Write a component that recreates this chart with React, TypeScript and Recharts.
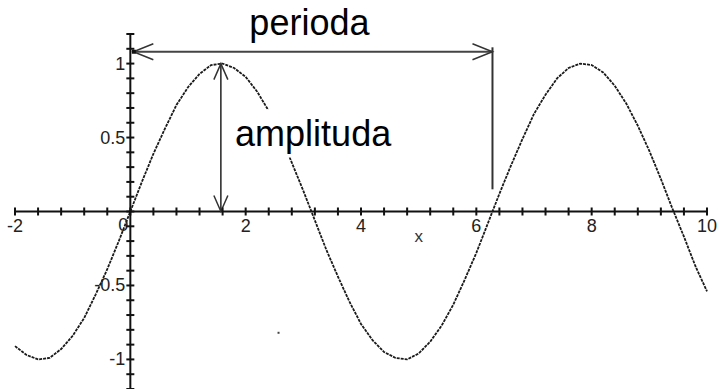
import React from "react";
import {
  ComposedChart,
  Line,
  Scatter,
  XAxis,
  YAxis,
  ReferenceLine,
  ReferenceDot,
} from "recharts";

// Sine curve
const curveX = [
  -2.0, -1.8, -1.6, -1.4, -1.2, -1.0, -0.8, -0.6, -0.4, -0.2, 0.0, 0.2, 0.4, 0.6,
  0.8, 1.0, 1.2, 1.4, 1.6, 1.8, 2.0, 2.2, 2.4, 2.6, 2.8, 3.0, 3.2, 3.4, 3.6, 3.8,
  4.0, 4.2, 4.4, 4.6, 4.8, 5.0, 5.2, 5.4, 5.6, 5.8, 6.0, 6.2, 6.4, 6.6, 6.8, 7.0,
  7.2, 7.4, 7.6, 7.8, 8.0, 8.2, 8.4, 8.6, 8.8, 9.0, 9.2, 9.4, 9.6, 9.8, 10.0,
];
const curveY = [
  -0.91, -0.97, -1.0, -0.99, -0.93, -0.84, -0.72, -0.56, -0.39, -0.2, 0.0, 0.2,
  0.39, 0.56, 0.72, 0.84, 0.93, 0.99, 1.0, 0.97, 0.91, 0.81, 0.68, 0.52, 0.33,
  0.14, -0.06, -0.26, -0.44, -0.61, -0.76, -0.87, -0.95, -0.99, -1.0, -0.96,
  -0.88, -0.77, -0.63, -0.46, -0.28, -0.08, 0.12, 0.31, 0.49, 0.66, 0.79, 0.9,
  0.97, 1.0, 0.99, 0.94, 0.85, 0.73, 0.58, 0.41, 0.22, 0.02, -0.17, -0.37, -0.54,
];

// Axis ticks
const xTickValues = [
  -2, -1.6, -1.2, -0.8, -0.4, 0, 0.4, 0.8, 1.2, 1.6, 2, 2.4, 2.8, 3.2, 3.6, 4,
  4.4, 4.8, 5.2, 5.6, 6, 6.4, 6.8, 7.2, 7.6, 8, 8.4, 8.8, 9.2, 9.6, 10,
];
const xTickLabels = [-2, 2, 4, 6, 8, 10];
const yTickValues = [
  -1.2, -1.1, -1.0, -0.9, -0.8, -0.7, -0.6, -0.5, -0.4, -0.3, -0.2, -0.1, 0,
  0.1, 0.2, 0.3, 0.4, 0.5, 0.6, 0.7, 0.8, 0.9, 1.0, 1.1, 1.2,
];
const yTickLabels = [-1, -0.5, 0.5, 1];

// Annotations (data coordinates)
const periodStart = 0;
const periodEnd = 6.28;
const periodLevel = 1.08;
const periodDropTop = 1.11;
const periodDropBottom = 0.15;
const amplitudeX = 1.57;
const amplitudeTop = 1;
const amplitudeBottom = 0;
const amplitudeTextPos = { x: 3.17, y: 0.44 };
const axisTitlePos = { x: 5, y: -0.17 };
const strayDot = { x: 2.57, y: -0.82 };

const curveData = curveX.map((x, i) => ({ x, y: curveY[i] }));
const xTickData = xTickValues.map((x) => ({ x, y: 0 }));
const yTickData = yTickValues.map((y) => ({ x: 0, y }));

const FONT = "'Liberation Sans', Arial, sans-serif";
const INK = "#111";

const XTick = (props: any) => {
  const { cx, cy, payload } = props;
  const isLabel = xTickLabels.includes(payload.x);
  return (
    <g>
      <line x1={cx} x2={cx} y1={cy - 4} y2={cy + 4} stroke={INK} strokeWidth={2} />
      {isLabel && (
        <text x={cx} y={cy + 20} textAnchor="middle" fontSize={18} fontFamily={FONT} fill="#222">
          {String(payload.x)}
        </text>
      )}
      {payload.x === 0 && (
        <text x={cx - 2} y={cy + 19} textAnchor="end" fontSize={18} fontFamily={FONT} fill="#222">
          0
        </text>
      )}
    </g>
  );
};

const YTick = (props: any) => {
  const { cx, cy, payload } = props;
  const isLabel = yTickLabels.includes(payload.y);
  return (
    <g>
      <line x1={cx - 4} x2={cx + 4} y1={cy} y2={cy} stroke={INK} strokeWidth={2} />
      {isLabel && (
        <text x={cx - 5} y={cy + 6} textAnchor="end" fontSize={18} fontFamily={FONT} fill="#222">
          {String(payload.y)}
        </text>
      )}
    </g>
  );
};

const arrowHead = (tx: number, ty: number, fx: number, fy: number, L: number, W: number) => {
  const dx = fx - tx;
  const dy = fy - ty;
  const len = Math.sqrt(dx * dx + dy * dy) || 1;
  const ux = dx / len;
  const uy = dy / len;
  const bx = tx + ux * L;
  const by = ty + uy * L;
  const px = -uy * W;
  const py = ux * W;
  return (
    <path
      d={`M${bx + px},${by + py} L${tx},${ty} L${bx - px},${by - py}`}
      fill="none"
      stroke="#333"
      strokeWidth={1.5}
    />
  );
};

const PeriodArrow = (props: any) => {
  const { x1, y1, x2, y2 } = props;
  return (
    <g>
      <line x1={x1 + 3} y1={y1} x2={x2} y2={y2} stroke="#444" strokeWidth={2} />
      {arrowHead(x1 + 3, y1, x2, y2, 20, 8)}
      {arrowHead(x2, y2, x1, y1, 20, 8)}
      <rect x={x1 + 1.5} y={y1 - 2} width={4} height={4} fill="#111" />
      <text
        x={(x1 + x2) / 2 - 2}
        y={y1 - 17}
        textAnchor="middle"
        fontSize={36}
        fontFamily={FONT}
        fill="#000"
      >
        perioda
      </text>
    </g>
  );
};

const AmplitudeArrow = (props: any) => {
  const { x1, y1, x2, y2 } = props;
  return (
    <g>
      <line x1={x1} y1={y1} x2={x2} y2={y2} stroke="#222" strokeWidth={1.5} />
      {arrowHead(x1, y1, x2, y2, 16, 7)}
      {arrowHead(x2, y2, x1, y1, 16, 7)}
    </g>
  );
};

const PlainLine = (props: any) => {
  const { x1, y1, x2, y2 } = props;
  return <line x1={x1} y1={y1} x2={x2} y2={y2} stroke="#333" strokeWidth={2} />;
};

const AmplitudeText = (props: any) => {
  const { cx, cy } = props;
  return (
    <g>
      <rect x={cx - 83} y={cy - 37} width={166} height={48} fill="#fff" />
      <text x={cx} y={cy} textAnchor="middle" fontSize={36} fontFamily={FONT} fill="#000">
        amplituda
      </text>
    </g>
  );
};

const AxisTitle = (props: any) => {
  const { cx, cy } = props;
  return (
    <text x={cx} y={cy + 5} textAnchor="middle" fontSize={17} fontFamily={FONT} fill="#333">
      x
    </text>
  );
};

const TinyDot = (props: any) => {
  const { cx, cy } = props;
  return <rect x={cx - 1} y={cy - 1} width={2} height={2} fill="#444" />;
};

export default function App() {
  return (
    <div style={{ width: 718, height: 389, background: "#fff" }}>
      <style>{`body{margin:0;background:#fff}`}</style>
      <ComposedChart
        width={718}
        height={389}
        margin={{ top: 34, right: 11, bottom: 0, left: 15 }}
        style={{ overflow: "visible" }}
      >
        <XAxis type="number" dataKey="x" domain={[-2, 10]} hide />
        <YAxis type="number" dataKey="y" domain={[-1.2, 1.2]} hide />
        <ReferenceLine y={0} stroke={INK} strokeWidth={2} />
        <ReferenceLine x={0} stroke={INK} strokeWidth={2} />
        <Scatter data={xTickData} shape={XTick} isAnimationActive={false} />
        <Scatter data={yTickData} shape={YTick} isAnimationActive={false} />
        <Line
          data={curveData}
          dataKey="y"
          type="linear"
          stroke="#1a1a1a"
          strokeWidth={1.8}
          strokeDasharray="3 1"
          dot={false}
          activeDot={false}
          isAnimationActive={false}
        />
        <ReferenceLine
          segment={[
            { x: periodStart, y: periodLevel },
            { x: periodEnd, y: periodLevel },
          ]}
          shape={PeriodArrow}
        />
        <ReferenceLine
          segment={[
            { x: periodEnd, y: periodDropTop },
            { x: periodEnd, y: periodDropBottom },
          ]}
          shape={PlainLine}
        />
        <ReferenceLine
          segment={[
            { x: amplitudeX, y: amplitudeTop },
            { x: amplitudeX, y: amplitudeBottom },
          ]}
          shape={AmplitudeArrow}
        />
        <ReferenceDot x={axisTitlePos.x} y={axisTitlePos.y} shape={AxisTitle} />
        <ReferenceDot x={strayDot.x} y={strayDot.y} shape={TinyDot} />
        <ReferenceDot
          x={amplitudeTextPos.x}
          y={amplitudeTextPos.y}
          shape={AmplitudeText}
          zIndex={2000}
        />
      </ComposedChart>
    </div>
  );
}
